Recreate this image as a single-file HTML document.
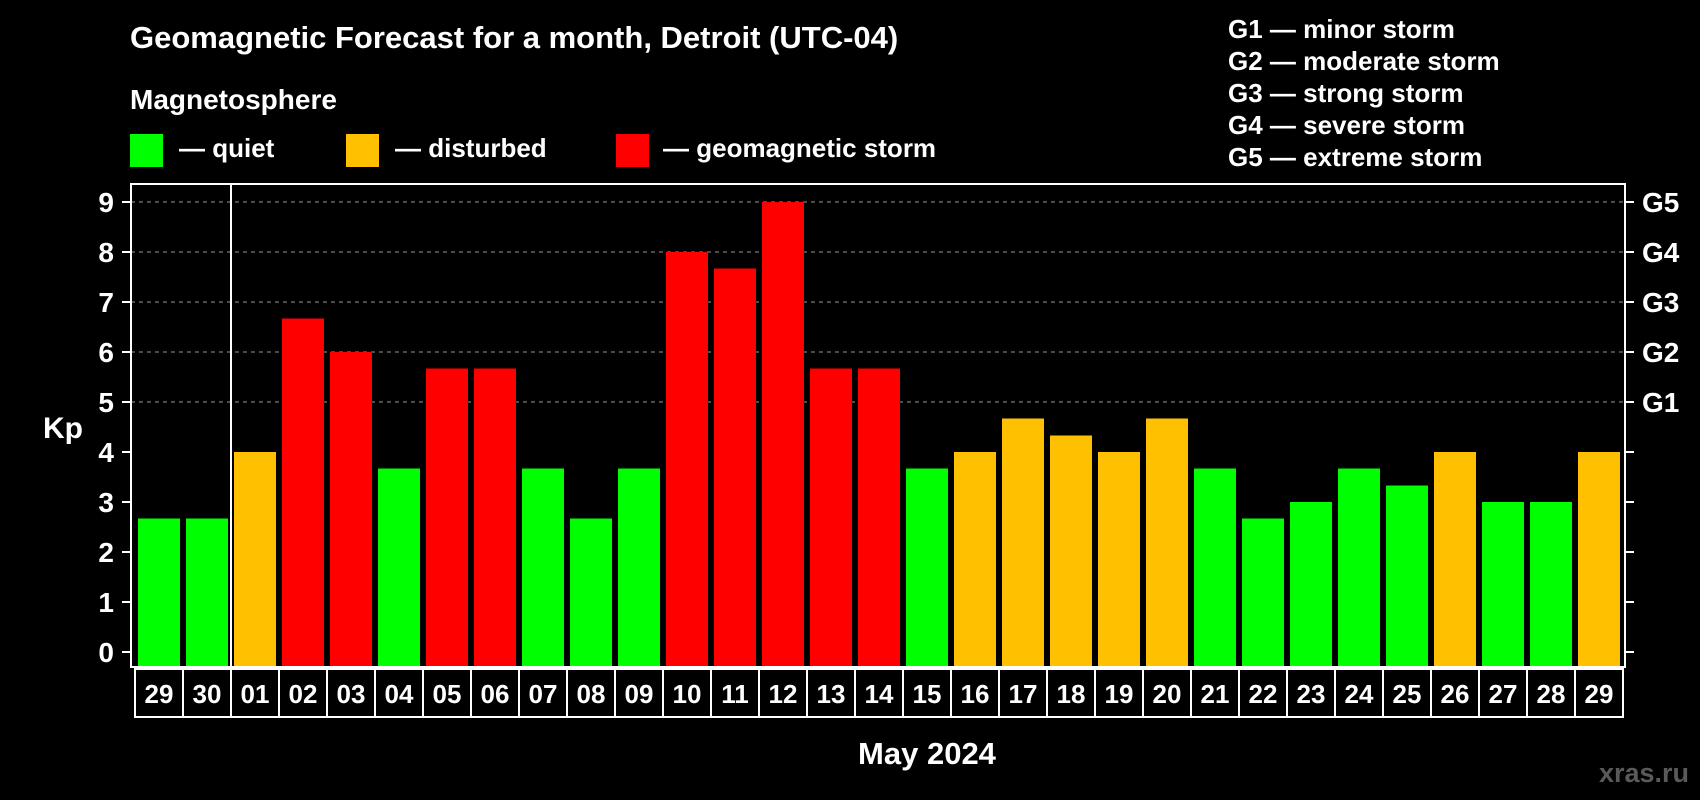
<!DOCTYPE html>
<html><head><meta charset="utf-8"><style>
html,body{margin:0;padding:0;background:#000;width:1700px;height:800px;overflow:hidden}
svg{display:block;font-family:"Liberation Sans",Arial,sans-serif;font-weight:bold;fill:#fff}
</style></head><body>
<svg id="chart" width="1700" height="800" viewBox="0 0 1700 800">
<text x="130" y="48" font-size="31">Geomagnetic Forecast for a month, Detroit (UTC-04)</text>
<text x="130" y="109" font-size="28">Magnetosphere</text>
<g><rect x="130" y="134" width="33" height="33" fill="#00ff00"/><text x="179" y="157" font-size="26">— quiet</text></g>
<g><rect x="346" y="134" width="33" height="33" fill="#ffc000"/><text x="395" y="157" font-size="26">— disturbed</text></g>
<g><rect x="616" y="134" width="33" height="33" fill="#ff0000"/><text x="663" y="157" font-size="26">— geomagnetic storm</text></g>
<g font-size="26">
<text x="1228" y="38">G1 — minor storm</text>
<text x="1228" y="70">G2 — moderate storm</text>
<text x="1228" y="102">G3 — strong storm</text>
<text x="1228" y="134">G4 — severe storm</text>
<text x="1228" y="166">G5 — extreme storm</text>
</g>
<text x="63" y="438" font-size="30" text-anchor="middle">Kp</text>
<text x="927" y="764" font-size="31" text-anchor="middle">May 2024</text>
<text x="1689" y="782" font-size="27" text-anchor="end" fill="#5a5a5a" style="fill:#5a5a5a">xras.ru</text>
<g id="grid"></g><g id="bars"></g><g id="axes"></g><g id="dates"></g>
</svg>
<script>
const days=["29","30","01","02","03","04","05","06","07","08","09","10","11","12","13","14","15","16","17","18","19","20","21","22","23","24","25","26","27","28","29"];
const kp=[2.67,2.67,4,6.67,6,3.67,5.67,5.67,3.67,2.67,3.67,8,7.67,9,5.67,5.67,3.67,4,4.67,4.33,4,4.67,3.67,2.67,3,3.67,3.33,4,3,3,4];
const yTicks=[0,1,2,3,4,5,6,7,8,9];
const gLabels=["G1","G2","G3","G4","G5"];
const gLevels=[5,6,7,8,9];
const NS="http://www.w3.org/2000/svg";
const L=131,R=1625,T=184,B=667,Y0=652,PU=50,STEP=48,X0=132;
const y=v=>Y0-v*PU;
const x=i=>X0+i*STEP;
function mk(tag,at,parent,txt){const e=document.createElementNS(NS,tag);for(const k in at)e.setAttribute(k,at[k]);if(txt!==undefined)e.textContent=txt;parent.appendChild(e);return e;}
const grid=document.getElementById('grid'),bars=document.getElementById('bars'),axes=document.getElementById('axes'),dates=document.getElementById('dates');
gLevels.forEach(v=>{const l=mk('line',{x1:L,x2:R,y1:y(v),y2:y(v),stroke:'#999','stroke-dasharray':'4,4','stroke-width':1},grid);

});
kp.forEach((v,i)=>{const c=v>=5?'#ff0000':(v>=4?'#ffc000':'#00ff00');
const r=mk('rect',{x:x(i)+6,y:y(v),width:42,height:B-y(v),fill:c},bars);

});
mk('rect',{x:L,y:T,width:R-L,height:B-T,fill:'none',stroke:'#fff','stroke-width':2},axes);
mk('line',{x1:231,x2:231,y1:T,y2:B,stroke:'#fff','stroke-width':2},axes);
yTicks.forEach(v=>{
mk('line',{x1:122,x2:131,y1:y(v),y2:y(v),stroke:'#fff','stroke-width':2},axes);
mk('line',{x1:1625,x2:1634,y1:y(v),y2:y(v),stroke:'#fff','stroke-width':2},axes);
const t=mk('text',{x:114,y:y(v)+10,'font-size':28,'text-anchor':'end'},axes,String(v));

});
gLevels.forEach((v,i)=>{const t=mk('text',{x:1642,y:y(v)+10,'font-size':28},axes,gLabels[i]);

});
days.forEach((d,i)=>{
mk('rect',{x:135+i*STEP,y:669,width:STEP,height:48,fill:'none',stroke:'#fff','stroke-width':2},dates);
const t=mk('text',{x:135+i*STEP+24,y:703,'font-size':26,'text-anchor':'middle'},dates,d);

});
</script>
</body></html>
